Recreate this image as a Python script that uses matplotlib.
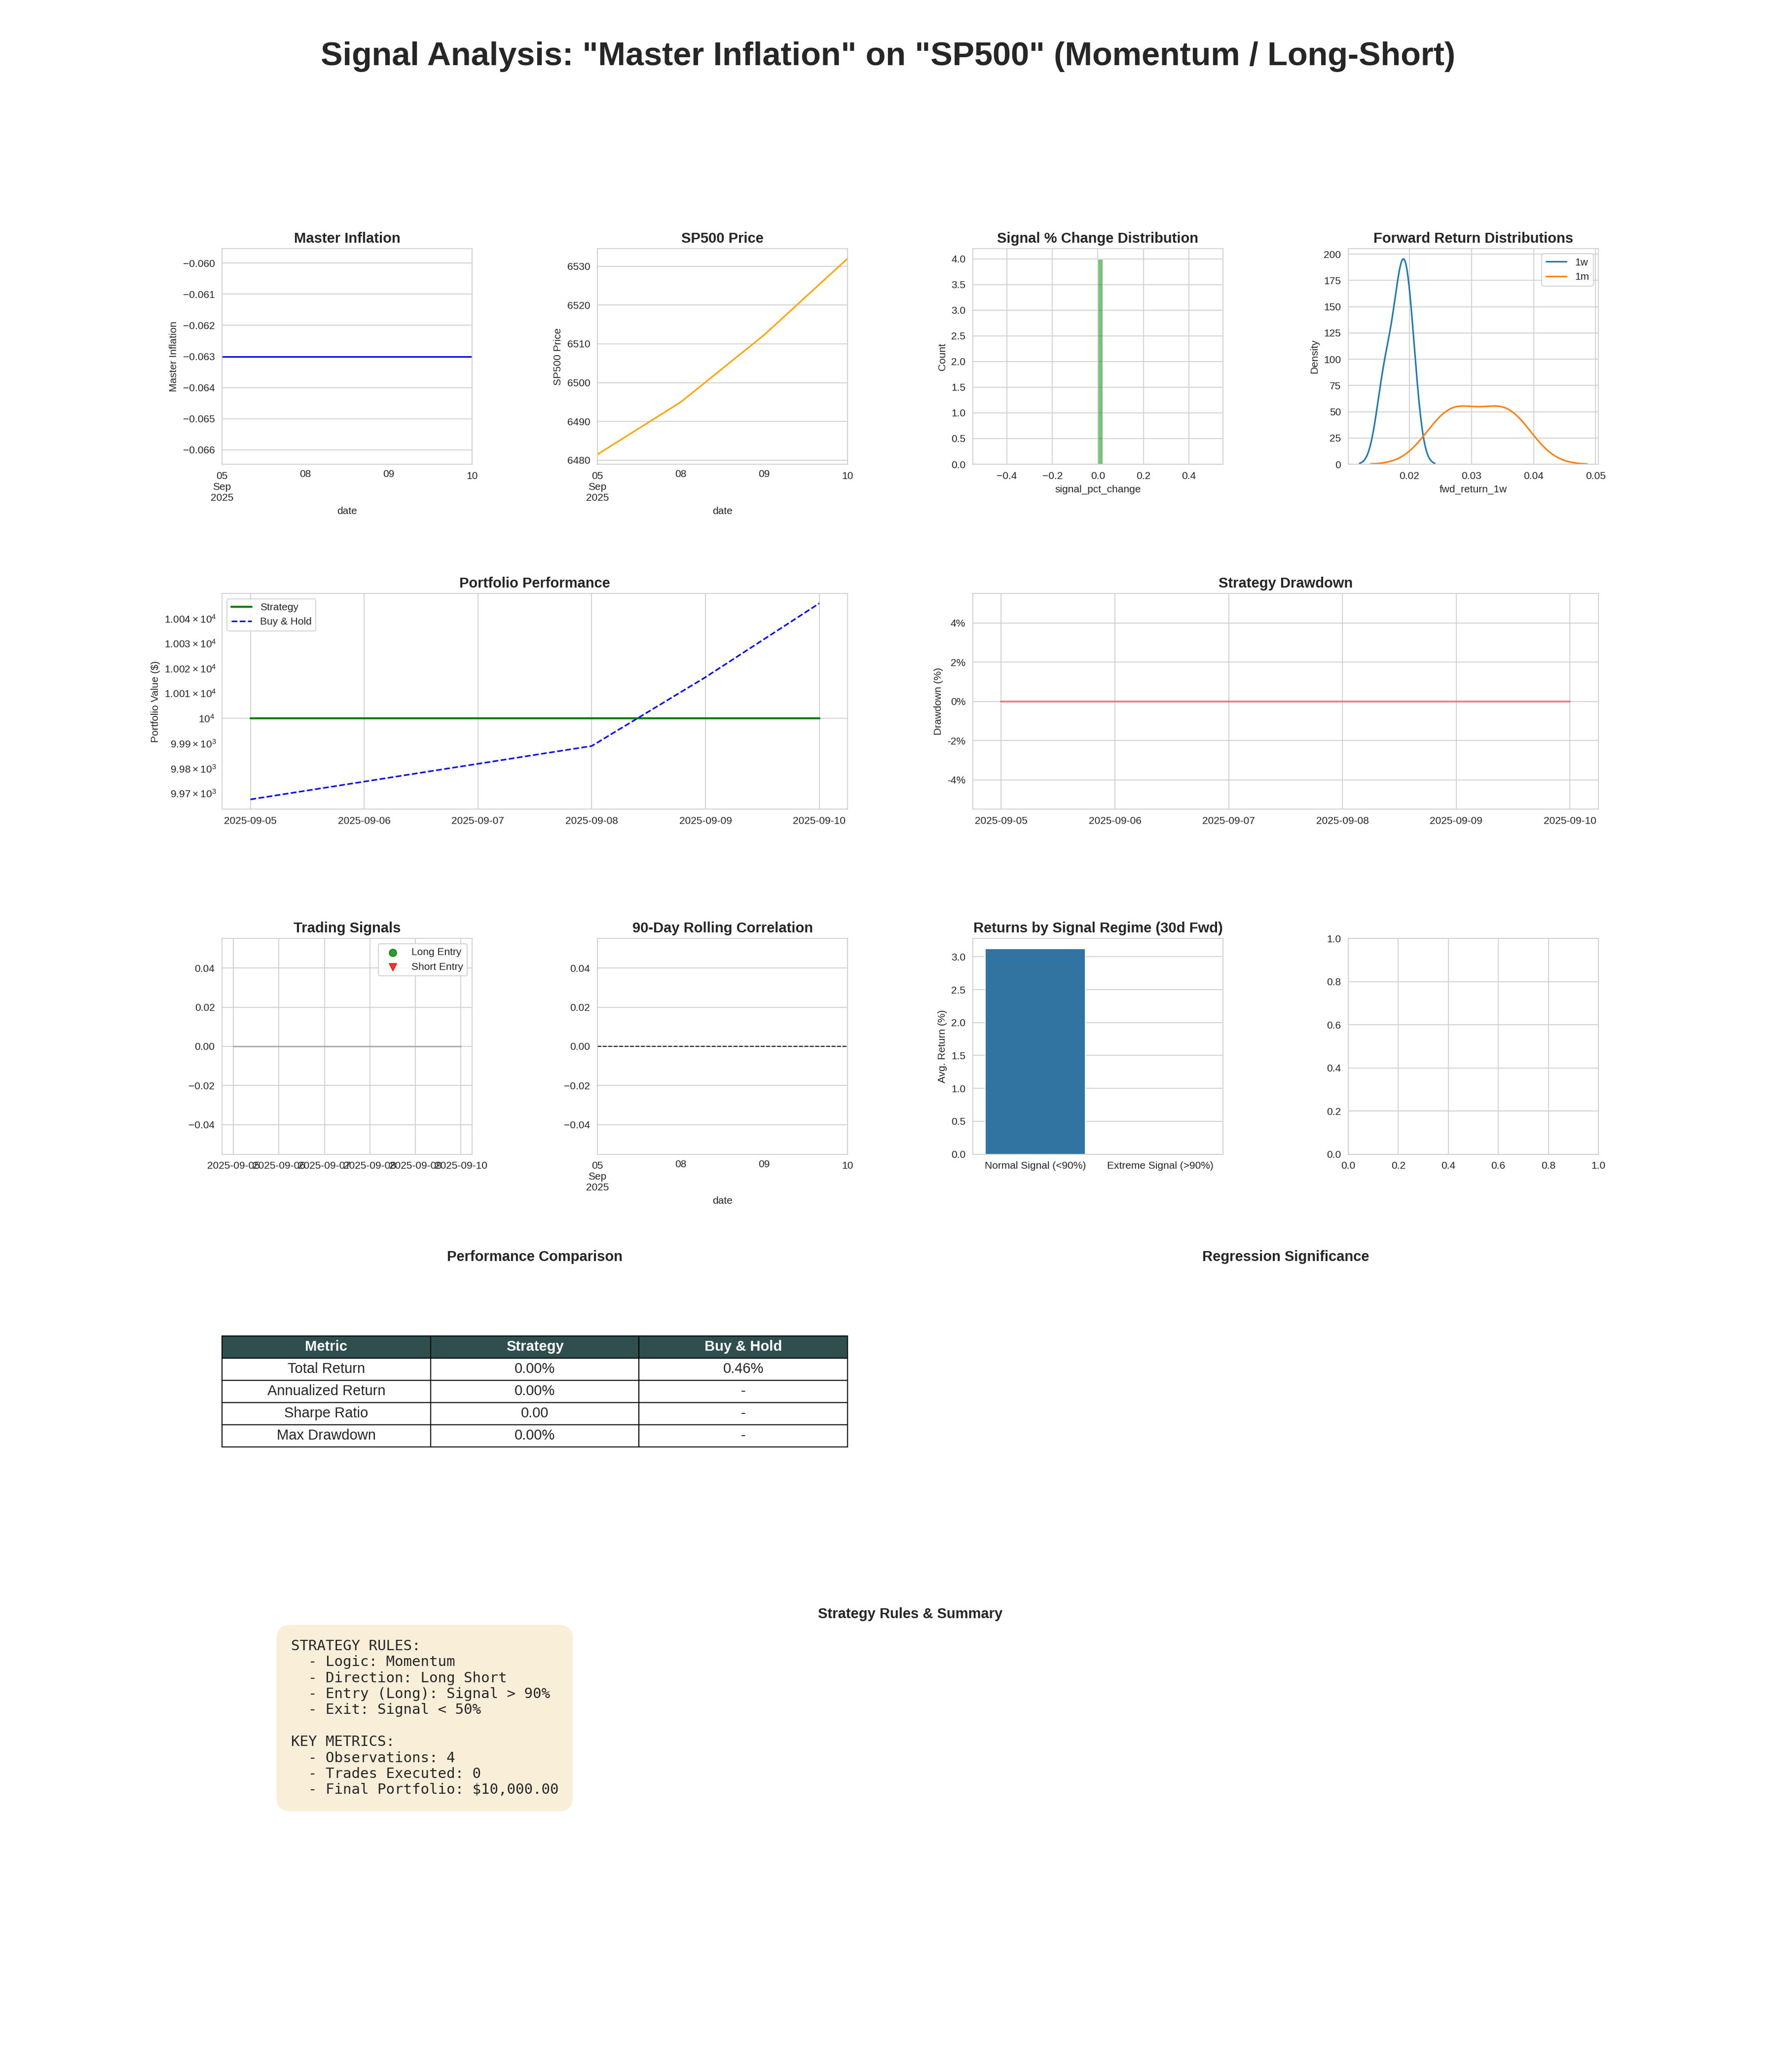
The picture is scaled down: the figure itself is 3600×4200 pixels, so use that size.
import numpy as np
import pandas as pd
import matplotlib
matplotlib.use('Agg')
import matplotlib.pyplot as plt
import matplotlib.ticker as mticker
import seaborn as sns

# ---------------- data ----------------
dates = ['2025-09-05', '2025-09-08', '2025-09-09', '2025-09-10']
signal_values = [-0.063, -0.063, -0.063, -0.063]
price_values = [6481.5, 6495.0, 6512.3, 6532.0]
signal_pct_change = [0.0, 0.0, 0.0, 0.0]
fwd_return_1w = [0.0160, 0.0182, 0.0192, 0.0201]
fwd_return_1m = [0.0257, 0.0279, 0.0345, 0.0367]
strategy_value = [10000.0, 10000.0, 10000.0, 10000.0]
buy_hold_value = [9967.6, 9988.9, 10016.4, 10046.0]
drawdown = [0.0, 0.0, 0.0, 0.0]
position = [0.0, 0.0, 0.0, 0.0]
rolling_corr = [np.nan, np.nan, np.nan, np.nan]
regime_labels = ['Normal Signal (<90%)', 'Extreme Signal (>90%)']
regime_returns = [3.12, np.nan]
table_columns = ['Metric', 'Strategy', 'Buy & Hold']
table_rows = [
    ['Total Return', '0.00%', '0.46%'],
    ['Annualized Return', '0.00%', '-'],
    ['Sharpe Ratio', '0.00', '-'],
    ['Max Drawdown', '0.00%', '-'],
]
summary_lines = [
    'STRATEGY RULES:',
    '  - Logic: Momentum',
    '  - Direction: Long Short',
    '  - Entry (Long): Signal > 90%',
    '  - Exit: Signal < 50%',
    '',
    'KEY METRICS:',
    '  - Observations: 4',
    '  - Trades Executed: 0',
    '  - Final Portfolio: $10,000.00',
]

# ---------------- style ----------------
sns.set_style('whitegrid')
plt.rcParams['font.family'] = ['Liberation Sans', 'DejaVu Sans']

TITLE_KW = dict(fontsize=14, fontweight='bold')

fig = plt.figure(figsize=(24, 28), dpi=150)
gs = fig.add_gridspec(5, 4, hspace=0.6, wspace=0.5)
fig.suptitle('Signal Analysis: "Master Inflation" on "SP500" (Momentum / Long-Short)',
             fontsize=32, fontweight='bold')

idx = pd.DatetimeIndex(pd.to_datetime(dates), name='date')
dt = pd.to_datetime(dates)

# Row 1
ax1 = fig.add_subplot(gs[0, 0])
pd.Series(signal_values, index=idx).plot(ax=ax1, color='blue')
ax1.set_title('Master Inflation', **TITLE_KW)
ax1.set_ylabel('Master Inflation')

ax2 = fig.add_subplot(gs[0, 1])
pd.Series(price_values, index=idx).plot(ax=ax2, color='orange')
ax2.set_title('SP500 Price', **TITLE_KW)
ax2.set_ylabel('SP500 Price')

ax3 = fig.add_subplot(gs[0, 2])
sns.histplot(x=np.array(signal_pct_change), bins=50, color='green', alpha=0.5, ax=ax3)
ax3.set_xlabel('signal_pct_change')
ax3.set_title('Signal % Change Distribution', **TITLE_KW)

ax4 = fig.add_subplot(gs[0, 3])
sns.kdeplot(x=np.array(fwd_return_1w), ax=ax4, label='1w')
sns.kdeplot(x=np.array(fwd_return_1m), ax=ax4, label='1m')
ax4.set_xlabel('fwd_return_1w')
ax4.set_title('Forward Return Distributions', **TITLE_KW)
ax4.legend()

# Row 2
ax5 = fig.add_subplot(gs[1, 0:2])
ax5.plot(dt, strategy_value, color='green', linewidth=2, label='Strategy')
ax5.plot(dt, buy_hold_value, color='blue', linestyle='--', linewidth=1.5, label='Buy & Hold')
ax5.set_yscale('log')
ax5.set_ylabel('Portfolio Value ($)')
ax5.set_title('Portfolio Performance', **TITLE_KW)
ax5.legend(loc='upper left')

ax6 = fig.add_subplot(gs[1, 2:4])
ax6.plot(dt, drawdown, color='#d62728', alpha=0.45, linewidth=2)
ax6.yaxis.set_major_formatter(mticker.FuncFormatter(lambda y, _: f'{y:.0%}'))
ax6.set_ylabel('Drawdown (%)')
ax6.set_title('Strategy Drawdown', **TITLE_KW)

# Row 3
ax7 = fig.add_subplot(gs[2, 0])
ax7.plot(dt, position, color='gray', alpha=0.5)
empty_dt = np.array([], dtype='datetime64[ns]')
ax7.scatter(empty_dt, np.array([]), color='green', marker='o', s=50, alpha=0.8, label='Long Entry')
ax7.scatter(empty_dt, np.array([]), color='red', marker='v', s=50, alpha=0.8, label='Short Entry')
ax7.set_title('Trading Signals', **TITLE_KW)
ax7.legend(loc='upper right')

ax8 = fig.add_subplot(gs[2, 1])
pd.Series(rolling_corr, index=idx).plot(ax=ax8)
ax8.axhline(0, color='black', linestyle='--', linewidth=1)
ax8.set_title('90-Day Rolling Correlation', **TITLE_KW)

ax9 = fig.add_subplot(gs[2, 2])
ax9.bar(regime_labels, regime_returns, color='#3274a1', width=0.8)
ax9.set_xlim(-0.5, 1.5)
ax9.xaxis.grid(False)
ax9.set_ylabel('Avg. Return (%)')
ax9.set_title('Returns by Signal Regime (30d Fwd)', **TITLE_KW)

ax10 = fig.add_subplot(gs[2, 3])

# Row 4
ax11 = fig.add_subplot(gs[3, 0:2])
ax11.axis('off')
ax11.set_title('Performance Comparison', pad=22, **TITLE_KW)
tbl = ax11.table(cellText=table_rows, colLabels=table_columns, loc='center', cellLoc='center')
tbl.auto_set_font_size(False)
tbl.set_fontsize(14)
tbl.scale(1, 1.8)
for j in range(len(table_columns)):
    c = tbl[0, j]
    c.set_facecolor('#2F4F4F')
    c.get_text().set_color('white')
    c.get_text().set_fontweight('bold')

ax12 = fig.add_subplot(gs[3, 2:4])
ax12.axis('off')
ax12.set_title('Regression Significance', pad=22, **TITLE_KW)

# Row 5
ax13 = fig.add_subplot(gs[4, :])
ax13.axis('off')
ax13.set_title('Strategy Rules & Summary', pad=10, **TITLE_KW)
ax13.text(0.05, 0.95, '\n'.join(summary_lines), transform=ax13.transAxes,
          fontsize=14, va='top', family='monospace',
          bbox=dict(boxstyle='round,pad=1', facecolor='wheat', alpha=0.5, edgecolor='none'))

fig.savefig('out.png', dpi=150)
